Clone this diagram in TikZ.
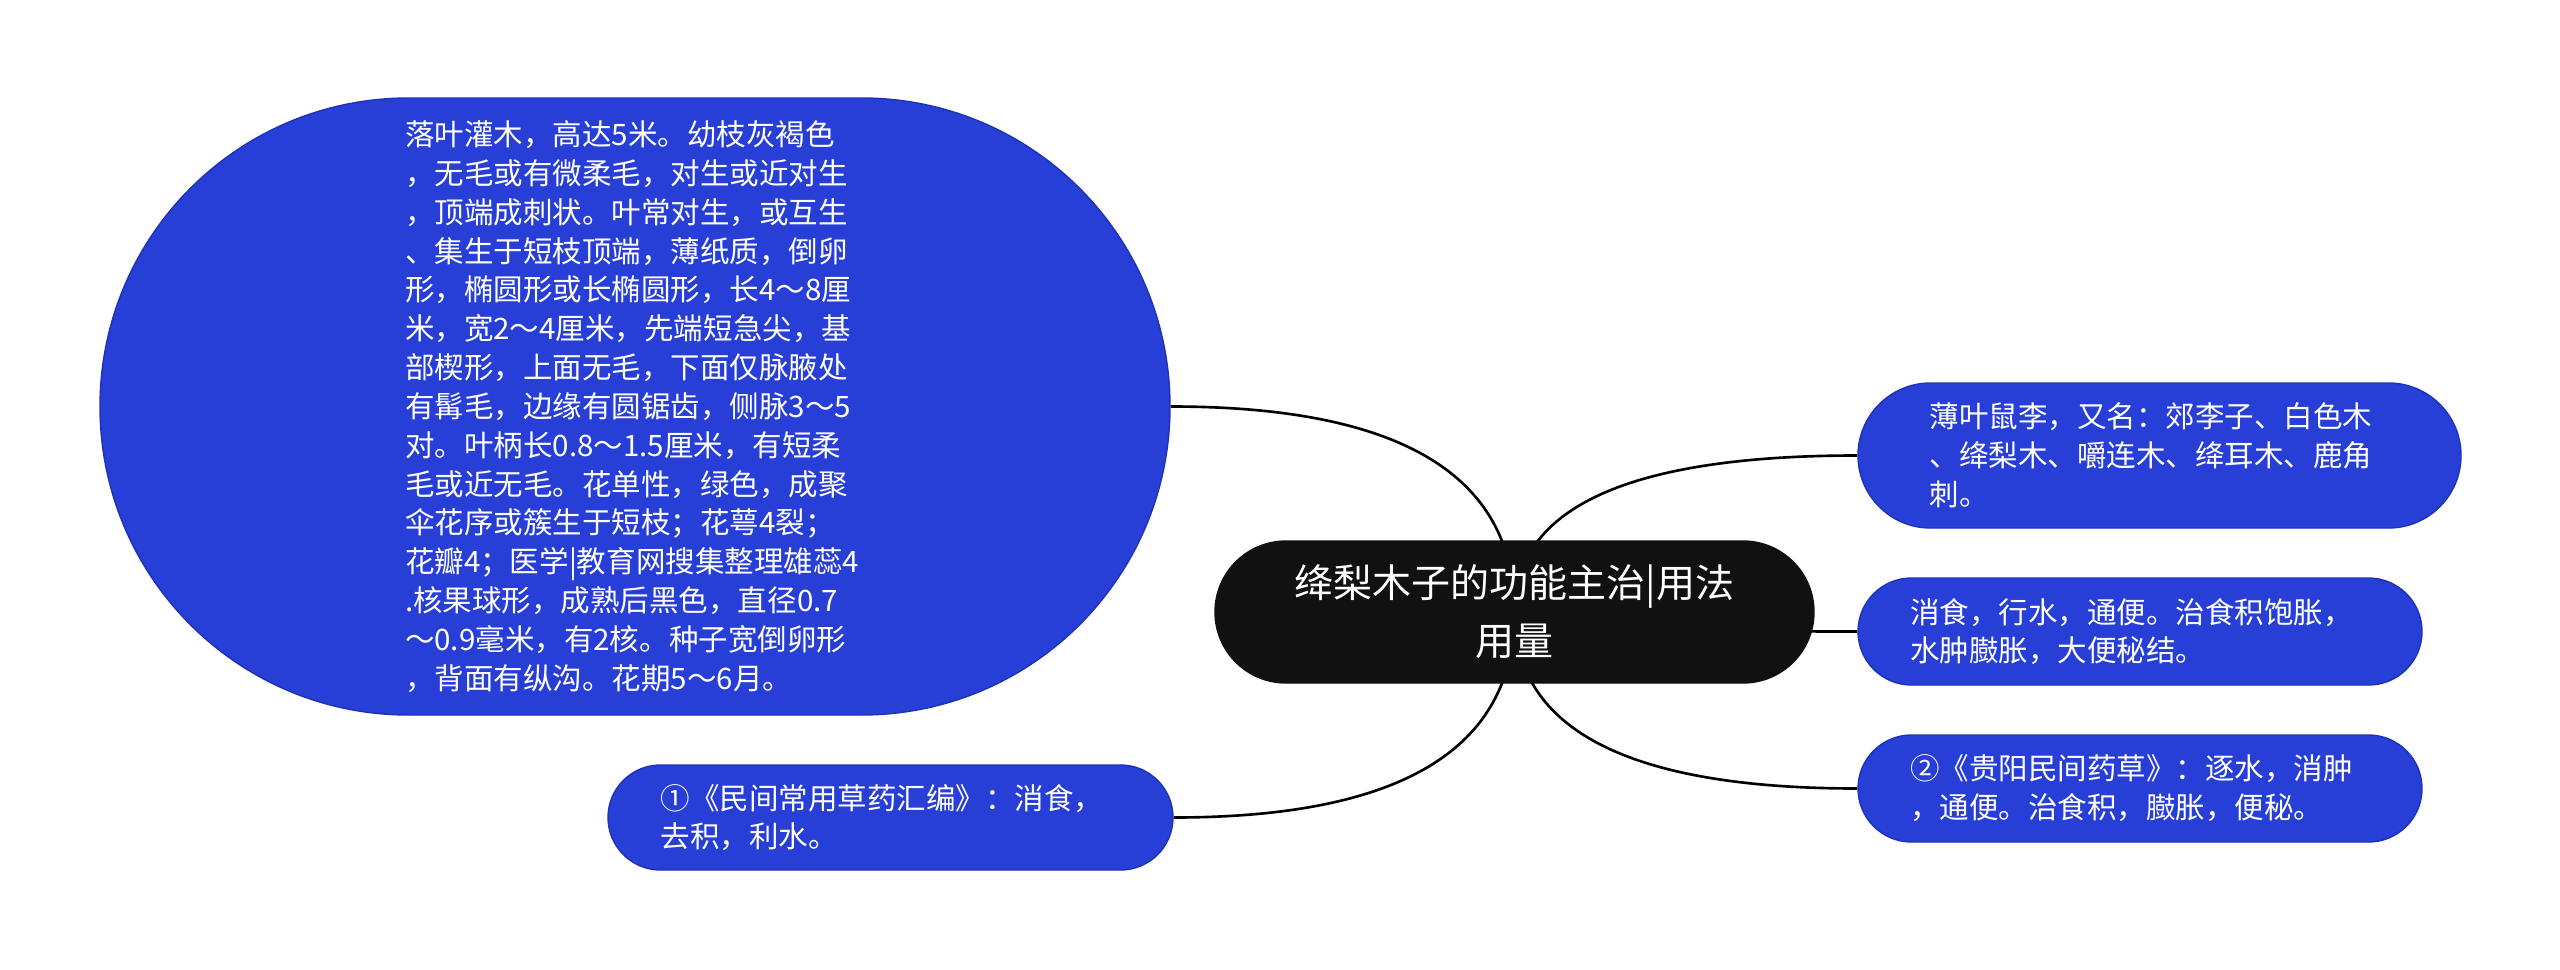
\documentclass[tikz,border=0pt]{standalone}
\usepackage{fontspec}
\setmainfont{Noto Sans CJK SC}
\usepackage{tikz}
\usetikzlibrary{calc, backgrounds}
\definecolor{mmblue}{RGB}{39,63,214}
\definecolor{mmedge}{RGB}{30,50,185}
\definecolor{mmblack}{RGB}{17,17,17}
\tikzstyle{leaf}=[shape=rectangle, fill=mmblue, draw=mmedge, line width=0.4pt, text=white, inner sep=0, text width=4.6cm, align=left, font=\fontsize{8.4}{11.05}\selectfont]
\tikzstyle{rootnode}=[shape=rectangle, fill=mmblack, draw=mmblack, text=white, inner sep=0, align=center, font=\fontsize{11.1}{16.4}\selectfont]
\tikzstyle{mmlink}=[line width=0.75pt, black]
\newcommand{\MMlink}[2]{\draw[mmlink] (#1.center) .. controls ($(#1.center)!.667!(#1.center |- #2)$) and ($(#2)!.667!(#1.center |- #2)$) .. (#2);}

\begin{document}
\begin{tikzpicture}
\useasboundingbox (0,0) rectangle (25.6,-9.7);
\node[rootnode, minimum width=5.99cm, minimum height=1.42cm, rounded corners=0.71cm] (root) at (15.145,-6.12) {绛梨木子的功能主治|用法\\用量};
\node[leaf, minimum width=10.7cm, minimum height=6.17cm, rounded corners=3.085cm] (desc) at (6.35,-4.065) {落叶灌木，高达5米。幼枝灰褐色\\，无毛或有微柔毛，对生或近对生\\，顶端成刺状。叶常对生，或互生\\、集生于短枝顶端，薄纸质，倒卵\\形，椭圆形或长椭圆形，长4～8厘\\米，宽2～4厘米，先端短急尖，基\\部楔形，上面无毛，下面仅脉腋处\\有髯毛，边缘有圆锯齿，侧脉3～5\\对。叶柄长0.8～1.5厘米，有短柔\\毛或近无毛。花单性，绿色，成聚\\伞花序或簇生于短枝；花萼4裂；\\花瓣4；医学|教育网搜集整理雄蕊4\\.核果球形，成熟后黑色，直径0.7\\～0.9毫米，有2核。种子宽倒卵形\\，背面有纵沟。花期5～6月。};
\node[leaf, minimum width=5.65cm, minimum height=1.05cm, rounded corners=0.525cm] (srca) at (8.905,-8.175) {①《民间常用草药汇编》：消食，\\去积，利水。};
\node[leaf, minimum width=6.03cm, minimum height=1.45cm, rounded corners=0.725cm] (alias) at (21.595,-4.555) {薄叶鼠李，又名：郊李子、白色木\\、绛梨木、嚼连木、绛耳木、鹿角\\刺。};
\node[leaf, minimum width=5.64cm, minimum height=1.07cm, rounded corners=0.535cm] (effect) at (21.40,-6.315) {消食，行水，通便。治食积饱胀，\\水肿臌胀，大便秘结。};
\node[leaf, minimum width=5.64cm, minimum height=1.07cm, rounded corners=0.535cm] (srcb) at (21.40,-7.885) {②《贵阳民间药草》：逐水，消肿\\，通便。治食积，臌胀，便秘。};
\begin{scope}[on background layer]
\MMlink{root}{desc.east}
\MMlink{root}{srca.east}
\MMlink{root}{alias.west}
\MMlink{root}{effect.west}
\MMlink{root}{srcb.west}
\end{scope}
\end{tikzpicture}
\end{document}
